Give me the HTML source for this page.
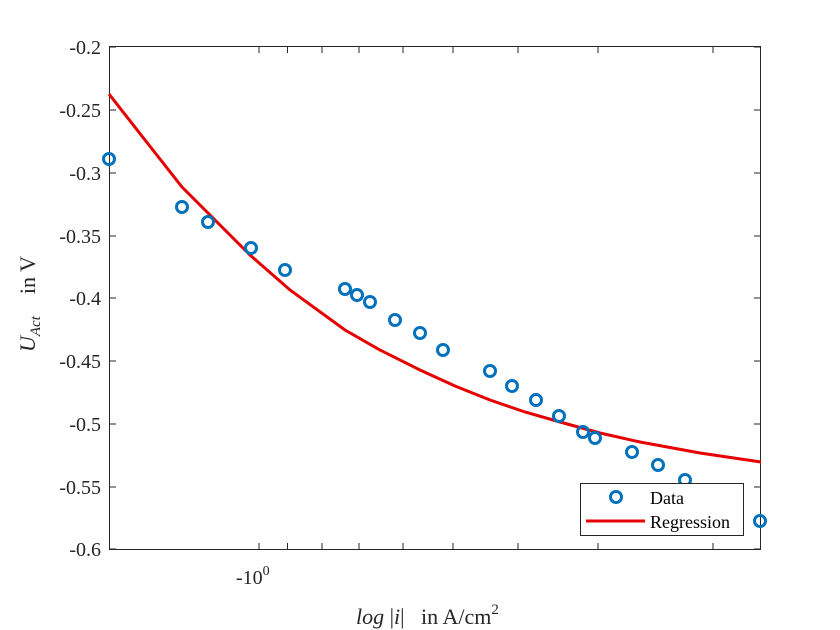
<!DOCTYPE html>
<html><head><meta charset="utf-8"><style>body{margin:0;background:#fff}svg{display:block}</style></head><body>
<svg width="840" height="630" xmlns="http://www.w3.org/2000/svg" font-family="Liberation Serif, serif">
<rect width="840" height="630" fill="#fff"/>
<rect x="109.5" y="46.5" width="651" height="503" fill="#fff" stroke="#262626" stroke-width="1"/>
<g stroke="#262626" stroke-width="1">
<path d="M259 47v6M287.5 47v6M322 47v6M359 47v6M403 47v6M453 47v6M518 47v6M598 47v6M713 47v6"/>
<path d="M259 549v-6M287.5 549v-6M322 549v-6M359 549v-6M403 549v-6M453 549v-6M518 549v-6M598 549v-6M713 549v-6"/>
<path d="M110 47h6M110 110h6M110 173h6M110 236h6M110 298h6M110 361h6M110 424h6M110 487h6M110 549h6"/>
<path d="M760 47h-6M760 110h-6M760 173h-6M760 236h-6M760 298h-6M760 361h-6M760 424h-6M760 487h-6M760 549h-6"/>
</g>
<g font-size="20" fill="#262626" text-anchor="end">
<text x="101" y="54">-0.2</text><text x="101" y="117">-0.25</text><text x="101" y="180">-0.3</text><text x="101" y="243">-0.35</text><text x="101" y="305">-0.4</text><text x="101" y="368">-0.45</text><text x="101" y="431">-0.5</text><text x="101" y="494">-0.55</text><text x="101" y="556">-0.6</text>
</g>
<text x="236" y="584" font-size="20" fill="#262626">-10<tspan font-size="14" dy="-9">0</tspan></text>
<text x="356" y="624" font-size="22" fill="#262626"><tspan font-style="italic">log</tspan>&#160;|<tspan font-style="italic">i</tspan>|&#160;&#160;&#160;in A/cm<tspan font-size="15" dy="-10">2</tspan></text>
<text transform="translate(35,352) rotate(-90)" font-size="22" fill="#262626"><tspan font-style="italic">U</tspan><tspan font-style="italic" font-size="15" dy="5">Act</tspan><tspan dy="-5">&#160;&#160;&#160;&#160;in V</tspan></text>
<polyline fill="none" stroke="#e60000" stroke-width="3" points="109,94 145,140 182,187 215,220 250,255 290,290 345,330 380,350 420,370 455,386 490,400 525,412 560,422 600,433 640,442 700,453 761,462"/>
<g fill="none" stroke="#0072bd" stroke-width="3">
<circle cx="109" cy="159" r="5.5"/><circle cx="182" cy="207" r="5.5"/><circle cx="208" cy="222" r="5.5"/><circle cx="251" cy="248" r="5.5"/><circle cx="285" cy="270" r="5.5"/><circle cx="345" cy="289" r="5.5"/><circle cx="357" cy="295" r="5.5"/><circle cx="370" cy="302" r="5.5"/><circle cx="395" cy="320" r="5.5"/><circle cx="420" cy="333" r="5.5"/><circle cx="443" cy="350" r="5.5"/><circle cx="490" cy="371" r="5.5"/><circle cx="512" cy="386" r="5.5"/><circle cx="536" cy="400" r="5.5"/><circle cx="559" cy="416" r="5.5"/><circle cx="583" cy="432" r="5.5"/><circle cx="595" cy="438" r="5.5"/><circle cx="632" cy="452" r="5.5"/><circle cx="658" cy="465" r="5.5"/><circle cx="685" cy="480" r="5.5"/><circle cx="760" cy="521" r="5.5"/>
</g>
<rect x="580.5" y="483.5" width="163" height="52" fill="#fff" stroke="#262626"/>
<circle cx="616" cy="497" r="5.5" fill="none" stroke="#0072bd" stroke-width="3"/>
<line x1="586" y1="521" x2="645" y2="521" stroke="#e60000" stroke-width="3"/>
<text x="650" y="504" font-size="18" fill="#000">Data</text>
<text x="650" y="528" font-size="18" fill="#000">Regression</text>
</svg>
</body></html>
